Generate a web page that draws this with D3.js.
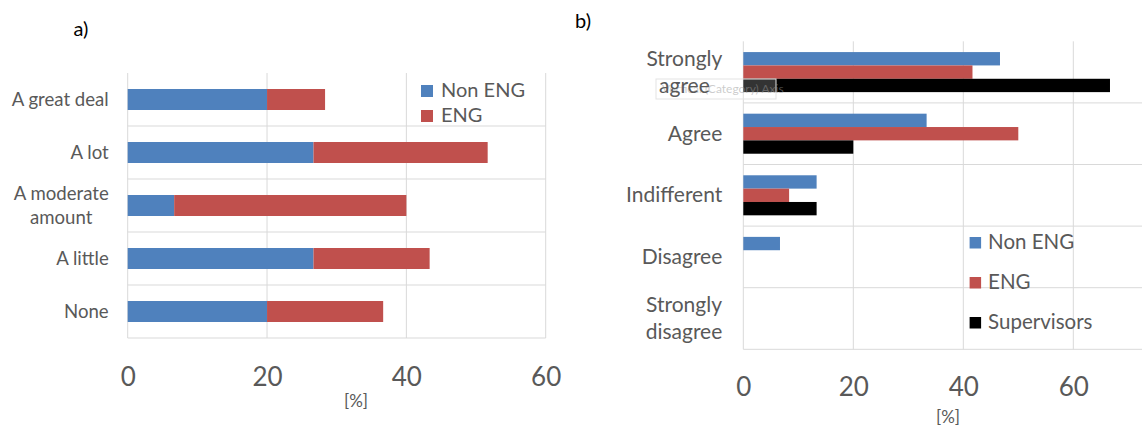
<!DOCTYPE html>
<html>
<head>
<meta charset="utf-8">
<script src="https://cdn.jsdelivr.net/npm/d3@7"></script>
<style>
  body { margin: 0; background: #fff; }
  text { font-family: Lato, "Open Sans", sans-serif; }
</style>
</head>
<body>
<div id="chart"></div>
<script>
// data (percent of respondents)
const catsA   = ["A great deal", "A lot", "A moderate amount", "A little", "None"];
const nonEngA = [20, 26.67, 6.67, 26.67, 20];
const engA    = [8.33, 25, 33.33, 16.67, 16.67];

const catsB   = ["Strongly agree", "Agree", "Indifferent", "Disagree", "Strongly disagree"];
const nonEngB = [46.67, 33.33, 13.33, 6.67, 0];
const engB    = [41.67, 50, 8.33, 0, 0];
const supB    = [66.67, 20, 13.33, 0, 0];

const ticksA  = [0, 20, 40, 60];
const ticksB  = [0, 20, 40, 60];
const seriesA = ["Non ENG", "ENG"];
const seriesB = ["Non ENG", "ENG", "Supervisors"];

const colors = { "Non ENG": "#4f81bd", "ENG": "#c0504d", "Supervisors": "#000000" };
const grid = "#d9d9d9";
const textCol = "#595959";

const width  = 1142;
const height = 428;

const svg = d3.select("#chart")
              .append("svg")
              .attr("width", width)
              .attr("height", height);

// wraps long category names onto two centred lines, like Excel does
function wrapLabels(sel, pad, lineH, fs) {
    sel.each(function(d) {
        const t = d3.select(this);
        const words = d.split(" ");
        const lines = d.length > 12 ? [words.slice(0, -1).join(" "), words[words.length - 1]] : [d];
        t.text(null).attr("text-anchor", "middle").attr("dy", null);
        const spans = lines.map((l, i) => t.append("tspan").text(l)
                                           .attr("dy", i === 0 ? (0.34 * fs - (lines.length - 1) * lineH / 2) + "px" : lineH + "px"));
        const w = d3.max(spans, s => s.node().getComputedTextLength());
        spans.forEach(s => s.attr("x", -pad - w / 2));
    });
}

// ---------------- chart a ----------------
const xA = d3.scaleLinear()
             .domain([0, 60])
             .range([127.7, 545.7]);

const yA = d3.scaleBand()
             .domain(catsA)
             .range([73, 338])
             .paddingInner(0.604)
             .paddingOuter(0.302);

const gA = svg.append("g");

gA.selectAll(".vgrid")
  .data(ticksA)
  .join("line")
  .attr("x1", d => xA(d)).attr("x2", d => xA(d))
  .attr("y1", 73).attr("y2", 338)
  .attr("stroke", grid);

gA.selectAll(".hgrid")
  .data(catsA)
  .join("line")
  .attr("x1", xA(0)).attr("x2", xA(60))
  .attr("y1", (d, i) => 73 + (i + 1) * yA.step())
  .attr("y2", (d, i) => 73 + (i + 1) * yA.step())
  .attr("stroke", grid);

const tableA = catsA.map((c, i) => ({ cat: c, "Non ENG": nonEngA[i], "ENG": engA[i] }));
const stackA = d3.stack().keys(seriesA)(tableA);

gA.selectAll(".layer")
  .data(stackA)
  .join("g")
  .attr("fill", d => colors[d.key])
  .selectAll("rect")
  .data(d => d)
  .join("rect")
  .attr("x", d => xA(d[0]))
  .attr("width", d => xA(d[1]) - xA(d[0]))
  .attr("y", d => yA(d.data.cat))
  .attr("height", yA.bandwidth());

const axA = gA.append("g")
              .attr("transform", "translate(0, 338)")
              .call(d3.axisBottom(xA).tickValues(ticksA).tickSize(0).tickPadding(30));
axA.select(".domain").remove();
axA.selectAll("text").attr("font-size", 26).attr("fill", textCol).style("font-family", "Lato");

const ayA = gA.append("g")
              .attr("transform", `translate(${xA(0)}, 0)`)
              .call(d3.axisLeft(yA).tickSize(0));
ayA.select(".domain").remove();
ayA.selectAll("text").attr("font-size", 18.6).attr("fill", textCol).style("font-family", "Lato")
   .call(wrapLabels, 19, 23.5, 18.6);

gA.append("text")
  .attr("x", 356).attr("y", 407)
  .attr("text-anchor", "middle")
  .attr("font-size", 17).attr("fill", textCol)
  .text("[%]");

gA.append("text")
  .attr("x", 81).attr("y", 36)
  .attr("text-anchor", "middle")
  .attr("font-size", 20).attr("fill", "#000")
  .text("a)");

const legA = gA.selectAll(".legA")
               .data(seriesA)
               .join("g")
               .attr("transform", (d, i) => `translate(421, ${85 + i * 25})`);
legA.append("rect").attr("width", 12).attr("height", 12).attr("fill", d => colors[d]);
legA.append("text").attr("x", 20).attr("y", 12.3)
    .attr("font-size", 20).attr("fill", textCol).text(d => d);

// ---------------- chart b ----------------
const xB = d3.scaleLinear()
             .domain([0, 80])
             .range([743.3, 1183.3]);

const yB = d3.scaleBand()
             .domain(catsB)
             .range([41.3, 349.3])
             .paddingInner(0.35)
             .paddingOuter(0.175);

const yBsub = d3.scaleBand()
                .domain(seriesB)
                .range([0, yB.bandwidth()]);

const gB = svg.append("g");

gB.selectAll(".vgrid")
  .data(ticksB)
  .join("line")
  .attr("x1", d => xB(d)).attr("x2", d => xB(d))
  .attr("y1", 41.3).attr("y2", 349.3)
  .attr("stroke", grid);

gB.selectAll(".hgrid")
  .data(catsB)
  .join("line")
  .attr("x1", xB(0)).attr("x2", xB(80))
  .attr("y1", (d, i) => 41.3 + (i + 1) * yB.step())
  .attr("y2", (d, i) => 41.3 + (i + 1) * yB.step())
  .attr("stroke", grid);

const tableB = catsB.map((c, i) => ({ cat: c, "Non ENG": nonEngB[i], "ENG": engB[i], "Supervisors": supB[i] }));

gB.selectAll(".grp")
  .data(tableB)
  .join("g")
  .attr("transform", d => `translate(0, ${yB(d.cat)})`)
  .selectAll("rect")
  .data(d => seriesB.map(k => ({ key: k, value: d[k] })))
  .join("rect")
  .attr("x", xB(0))
  .attr("y", d => yBsub(d.key))
  .attr("width", d => xB(d.value) - xB(0))
  .attr("height", yBsub.bandwidth())
  .attr("fill", d => colors[d.key]);

// faint Excel tooltip left in the screenshot
const tip = gB.append("g").attr("transform", "translate(656, 79)");
tip.append("rect").attr("width", 120).attr("height", 20)
   .attr("fill", "#fff").attr("fill-opacity", 0.2)
   .attr("stroke", "#e3e3e3");
tip.append("text").attr("x", 6).attr("y", 14)
   .attr("font-size", 12).attr("fill", "#999").attr("fill-opacity", 0.5)
   .text("Vertical (Category) Axis");

const axB = gB.append("g")
              .attr("transform", "translate(0, 349.3)")
              .call(d3.axisBottom(xB).tickValues(ticksB).tickSize(0).tickPadding(28));
axB.select(".domain").remove();
axB.selectAll("text").attr("font-size", 26).attr("fill", textCol).style("font-family", "Lato");

const ayB = gB.append("g")
              .attr("transform", `translate(${xB(0)}, 0)`)
              .call(d3.axisLeft(yB).tickSize(0));
ayB.select(".domain").remove();
ayB.selectAll("text").attr("font-size", 21).attr("fill", textCol).style("font-family", "Lato")
   .call(wrapLabels, 21, 26.7, 21);

gB.append("text")
  .attr("x", 948).attr("y", 423)
  .attr("text-anchor", "middle")
  .attr("font-size", 17).attr("fill", textCol)
  .text("[%]");

gB.append("text")
  .attr("x", 583).attr("y", 28)
  .attr("text-anchor", "middle")
  .attr("font-size", 20).attr("fill", "#000")
  .text("b)");

const legB = gB.selectAll(".legB")
               .data(seriesB)
               .join("g")
               .attr("transform", (d, i) => `translate(969.6, ${237 + i * 40})`);
legB.append("rect").attr("width", 11.5).attr("height", 11.5).attr("fill", d => colors[d]);
legB.append("text").attr("x", 18.5).attr("y", 12.3)
    .attr("font-size", 20.5).attr("fill", textCol).text(d => d);
</script>
</body>
</html>
